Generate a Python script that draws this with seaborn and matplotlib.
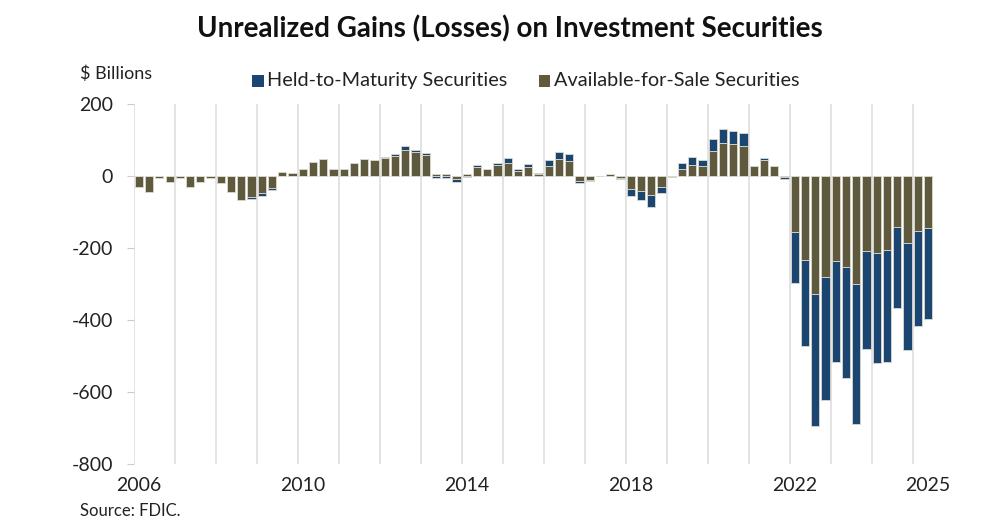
import numpy as np
import pandas as pd
import matplotlib
matplotlib.use('Agg')
import matplotlib.pyplot as plt
import seaborn as sns

# -----------------------------
# Data ($ billions, quarterly 2006Q1 - 2025Q2)
# -----------------------------

years = list(range(2006, 2026))

afs = [
    -31, -46, -7, -16,      # 2006
    -7, -30, -16, -7,       # 2007
    -19, -44, -67, -58,     # 2008
    -47, -33, 12, 9,        # 2009
    20, 40, 47, 19,         # 2010
    18, 37, 48, 44,         # 2011
    50, 56, 73, 66,         # 2012
    58, 5, 5, -8,           # 2013
    4, 26, 18, 29,          # 2014
    35, 14, 26, 6,          # 2015
    28, 47, 42, -14,        # 2016
    -10, -1, 4, -6,         # 2017
    -35, -42, -54, -31,     # 2018
    -2, 19, 31, 28,         # 2019
    69, 91, 89, 83,         # 2020
    28, 43, 28, -3,         # 2021
    -156, -234, -327, -281, # 2022
    -236, -253, -299, -208, # 2023
    -214, -206, -142, -186, # 2024
    -153, -145,             # 2025
]

htm = [
    0, 0, 0, 0,
    0, 0, 0, 0,
    0, 0, 0, -5,
    -9, -6, 0, 0,
    0, 0, 0, 0,
    0, 0, 0, 0,
    3, 4, 9, 7,
    5, -5, -5, -10,
    -2, 3, 2, 6,
    14, 5, 6, 3,
    16, 20, 18, -7,
    -5, 0, 1, -3,
    -21, -26, -31, -17,
    0, 16, 21, 16,
    34, 39, 35, 35,
    0, 8, 0, -6,
    -141, -239, -367, -340,
    -282, -309, -391, -273,
    -306, -310, -224, -298,
    -263, -253,
]

quarters = [f"{y}Q{q}" for y in years for q in range(1, 5)][:len(afs)]

tick_years = ["2006", "2010", "2014", "2018", "2022", "2025"]
y_ticks = [200, 0, -200, -400, -600, -800]

df = pd.DataFrame({'Quarter': quarters, 'AFS': afs, 'HTM': htm})
afs_arr = df['AFS'].to_numpy()
htm_arr = df['HTM'].to_numpy()
htm_bottom = np.where(afs_arr * htm_arr > 0, afs_arr, 0)

# -----------------------------
# Style
# -----------------------------

sns.set_theme(style='white')
plt.rcParams['font.family'] = ['Lato', 'DejaVu Sans']

navy = '#1b4672'
olive = '#5f5a3d'
edge = '#dcd9cf'

fig = plt.figure(figsize=(9.98, 5.22), dpi=100)
ax = fig.add_axes([0.134, 0.111, 0.803, 0.690])

# year gridlines at year starts
for i in range(len(years)):
    ax.axvline(i * 4 - 0.5, color='#e3e3e3', lw=1.4, zorder=0)

sns.barplot(
    data=df, x='Quarter', y='AFS', color=olive, saturation=1,
    edgecolor=edge, linewidth=0.6, width=0.8, ax=ax, zorder=2
)
sns.barplot(
    data=df, x='Quarter', y='HTM', color=navy, saturation=1,
    edgecolor=edge, linewidth=0.6, width=0.8, ax=ax, zorder=2,
    bottom=htm_bottom
)

ax.set_xlim(-0.5, len(afs) - 0.3)
ax.set_ylim(-800, 200)

tick_pos = [quarters.index(f"{y}Q1") for y in tick_years[:-1]] + [len(afs) - 1]
ax.set_xticks(tick_pos)
ax.set_xticklabels(tick_years, fontsize=14, color='#222222')
ax.set_yticks(y_ticks)
ax.set_yticklabels([str(v) for v in y_ticks], fontsize=14, color='#222222')

ax.tick_params(axis='x', length=0, pad=9)
ax.tick_params(axis='y', length=5, width=0.8, color='#cccccc', left=True, pad=10)
ax.set_xlabel('')
ax.set_ylabel('')
for s in ax.spines.values():
    s.set_visible(False)

# -----------------------------
# Text
# -----------------------------

fig.text(0.511, 0.945, 'Unrealized Gains (Losses) on Investment Securities',
         ha='center', va='center', fontsize=20, fontweight='bold', color='#111111')
fig.text(0.080, 0.858, '$ Billions', ha='left', va='center', fontsize=13, color='#222222')
fig.text(0.080, 0.022, 'Source: FDIC.', ha='left', va='center', fontsize=12, color='#222222')

# legend
fig.patches.append(plt.Rectangle((0.253, 0.834), 0.0115, 0.022, transform=fig.transFigure,
                                 facecolor=navy, edgecolor='none'))
fig.text(0.268, 0.845, 'Held-to-Maturity Securities', ha='left', va='center',
         fontsize=14.3, color='#222222')
fig.patches.append(plt.Rectangle((0.540, 0.834), 0.0115, 0.022, transform=fig.transFigure,
                                 facecolor=olive, edgecolor='none'))
fig.text(0.555, 0.845, 'Available-for-Sale Securities', ha='left', va='center',
         fontsize=14.3, color='#222222')

fig.savefig('out.png', dpi=100, facecolor='white')
